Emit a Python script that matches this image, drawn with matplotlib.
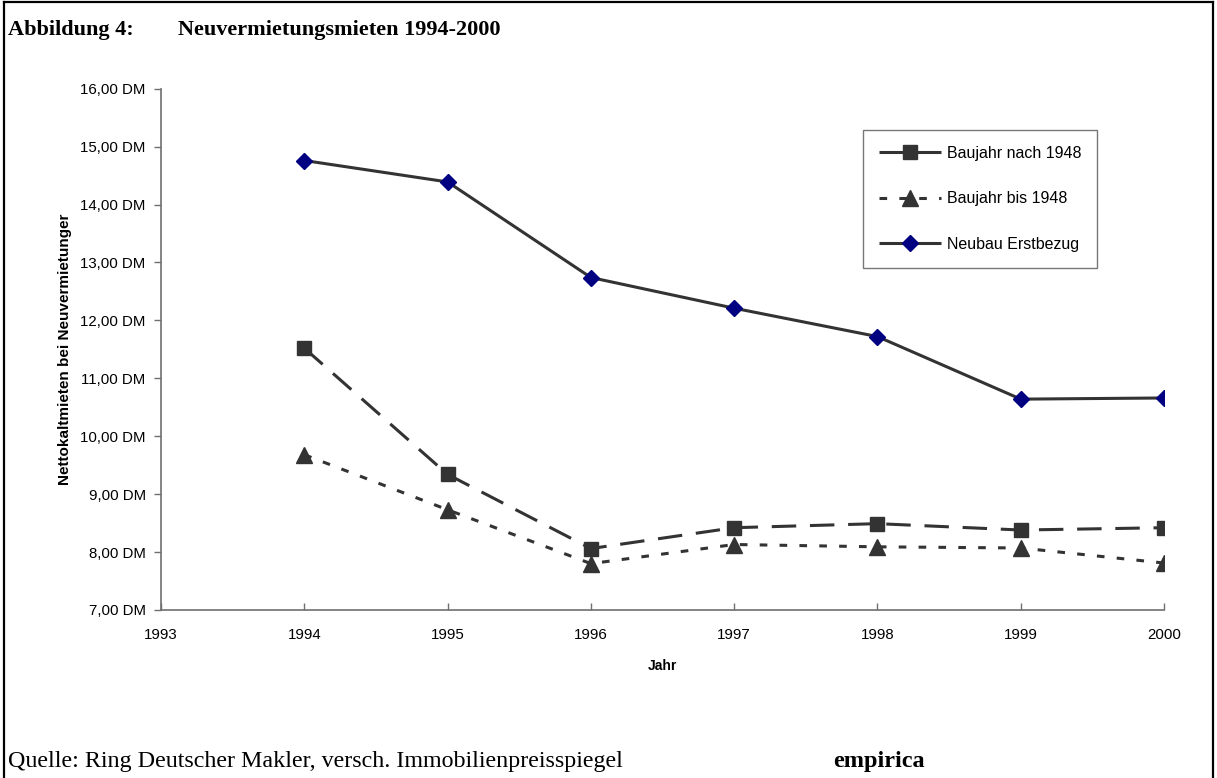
import matplotlib
matplotlib.use("Agg")
import matplotlib.pyplot as plt
from matplotlib.ticker import FuncFormatter, MultipleLocator
from matplotlib.lines import Line2D

# Data
jahre = [1994, 1995, 1996, 1997, 1998, 1999, 2000]
baujahr_nach_1948 = [11.52, 9.34, 8.06, 8.42, 8.49, 8.38, 8.42]
baujahr_bis_1948 = [9.68, 8.73, 7.80, 8.13, 8.09, 8.07, 7.81]
neubau_erstbezug = [14.76, 14.39, 12.74, 12.21, 11.72, 10.64, 10.66]

sans = "Liberation Sans"
serif = "Liberation Serif"
line_col = "#333333"

fig = plt.figure(figsize=(12.17, 7.78), dpi=100)
ax = fig.add_axes([0.1323, 0.216, 0.8242, 0.670])

lw = 2.2
ax.plot(jahre, baujahr_nach_1948, color=line_col, lw=lw, dashes=(8, 4.5),
        marker="s", markersize=10.5, markerfacecolor=line_col, markeredgecolor=line_col,
        label="Baujahr nach 1948")
ax.plot(jahre, baujahr_bis_1948, color=line_col, lw=lw, dashes=(2.5, 4),
        marker="^", markersize=11, markerfacecolor=line_col, markeredgecolor=line_col,
        label="Baujahr bis 1948")
ax.plot(jahre, neubau_erstbezug, color=line_col, lw=lw, solid_capstyle="butt",
        marker="D", markersize=8.5, markerfacecolor="#000080", markeredgecolor="#000080",
        label="Neubau Erstbezug")

# Axes
ax.set_xlim(1993, 2000)
ax.set_ylim(7, 16)
ax.xaxis.set_major_locator(MultipleLocator(1))
ax.yaxis.set_major_locator(MultipleLocator(1))
ax.yaxis.set_major_formatter(FuncFormatter(lambda v, p: f"{v:.2f}".replace(".", ",") + " DM"))
for s in ["top", "right"]:
    ax.spines[s].set_visible(False)
for s in ["left", "bottom"]:
    ax.spines[s].set_color("#707070")
    ax.spines[s].set_linewidth(1.2)
ax.tick_params(axis="y", direction="out", length=5, width=1.0, color="#707070", pad=6,
               labelsize=10.8)
ax.tick_params(axis="x", direction="in", length=5, width=1.0, color="#707070", pad=13,
               labelsize=10.8)
for lab in ax.get_xticklabels() + ax.get_yticklabels():
    lab.set_fontfamily(sans)

ax.set_xlabel("Jahr", fontfamily=sans, fontweight="bold", fontsize=10, labelpad=12)
ax.set_ylabel("Nettokaltmieten bei Neuvermietunger", fontfamily=sans, fontweight="bold",
              fontsize=11, labelpad=6)

# Legend
leg = ax.legend(loc="upper left", bbox_to_anchor=(0.70, 0.921), handlelength=3.9,
                handletextpad=0.35, labelspacing=1.9, borderpad=1.0, fancybox=False,
                prop={"family": sans, "size": 11.5}, borderaxespad=0)
leg.get_frame().set_edgecolor("#555555")
leg.get_frame().set_linewidth(1.0)

# Title and footer
fig.text(8 / 1217, 1 - 30 / 778, "Abbildung 4:", fontfamily=serif, fontweight="bold",
         fontsize=16, va="center", ha="left")
fig.text(178 / 1217, 1 - 30 / 778, "Neuvermietungsmieten 1994-2000", fontfamily=serif,
         fontweight="bold", fontsize=16, va="center", ha="left")
fig.text(8 / 1217, 1 - 762 / 778, "Quelle: Ring Deutscher Makler, versch. Immobilienpreisspiegel",
         fontfamily=serif, fontsize=17.3, va="center", ha="left")
fig.text(833 / 1217, 1 - 762 / 778, "empirica", fontfamily=serif, fontweight="bold",
         fontsize=17.5, va="center", ha="left")

# Frame around the figure
for xs, ys in [([0.003, 0.003], [0, 0.998]), ([0.003, 0.997], [0.998, 0.998]),
               ([0.997, 0.997], [0, 0.998])]:
    fig.add_artist(Line2D(xs, ys, transform=fig.transFigure, color="black", lw=1.6))

fig.savefig("out.png", dpi=100)
